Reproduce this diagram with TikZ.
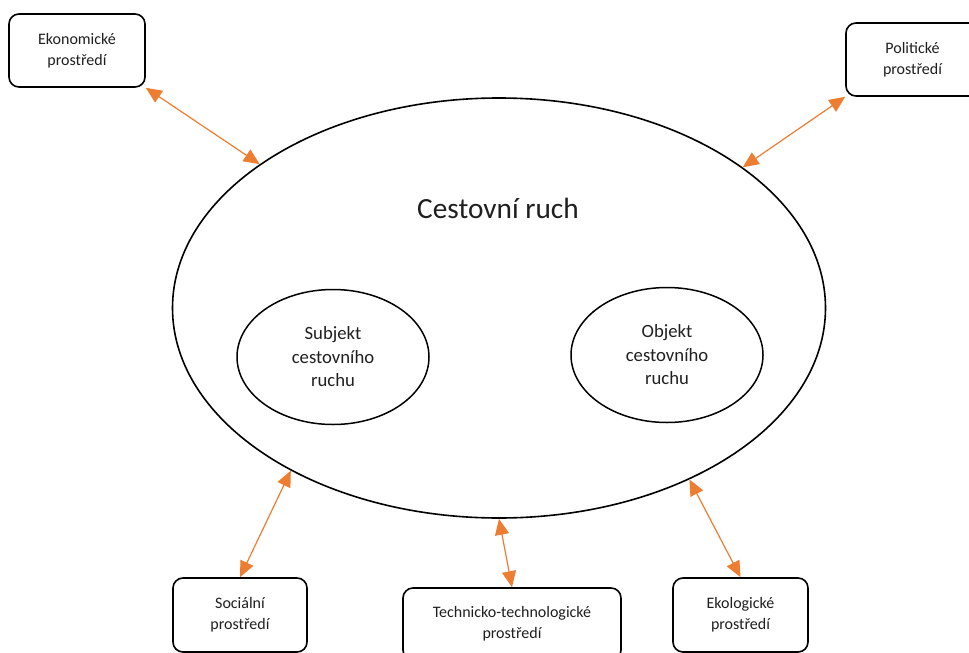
\documentclass[tikz,border=0pt]{standalone}
\usepackage{fontspec}
\setmainfont{Carlito}
\usetikzlibrary{shapes.geometric,arrows.meta}
\definecolor{arroworange}{HTML}{ED7D31}
\definecolor{txt}{HTML}{1F1F1F}
\begin{document}
\begin{tikzpicture}[x=1pt,y=-1pt,
  envbox/.style={draw=black, line width=1.6pt, rounded corners=10pt, fill=white,
    minimum height=73pt, inner sep=0pt, align=center, text=txt,
    font=\fontsize{16}{21}\selectfont},
  bigell/.style={draw=black, line width=1.6pt, ellipse, inner sep=0pt,
    minimum width=653pt, minimum height=420pt},
  smallell/.style={draw=black, line width=1.5pt, ellipse, inner sep=0pt,
    minimum width=192pt, minimum height=135pt, align=center, text=txt,
    font=\fontsize{18.7}{23.5}\selectfont},
  conn/.style={draw=arroworange, line width=1.2pt,
    {Triangle[length=16pt,width=14pt]}-{Triangle[length=16pt,width=14pt]}}
]
\useasboundingbox (0,0) rectangle (969,653);
\node[bigell] (cr) at (499,308) {};
\node[text=txt, font=\fontsize{29.3}{34}\selectfont] (title) at (498,208) {Cestovní ruch};
\node[smallell] (subj) at (333,357) {Subjekt\\cestovního\\ruchu};
\node[smallell] (obj) at (667,355) {Objekt\\cestovního\\ruchu};

\node[envbox, minimum width=136pt] (eko) at (77,50.5) {Ekonomické\\prostředí};
\node[envbox, minimum width=133pt] (pol) at (912.5,59.5) {Politické\\prostředí};
\node[envbox, minimum width=134pt, minimum height=74pt] (soc) at (240,615) {Sociální\\prostředí};
\node[envbox, minimum width=218pt, minimum height=72pt] (tech) at (512,624) {Technicko-technologické\\prostředí};
\node[envbox, minimum width=135pt, minimum height=74pt] (eco) at (740.5,615) {Ekologické\\prostředí};

\draw[conn] (eko.south east) -- (cr.149.4);
\draw[conn] (pol.south west) -- (cr.30.5);
\draw[conn] (soc.north) -- (cr.218.7);
\draw[conn] (tech.north) -- (cr.270.8);
\draw[conn] (eco.north) -- (cr.318);
\end{tikzpicture}
\end{document}
